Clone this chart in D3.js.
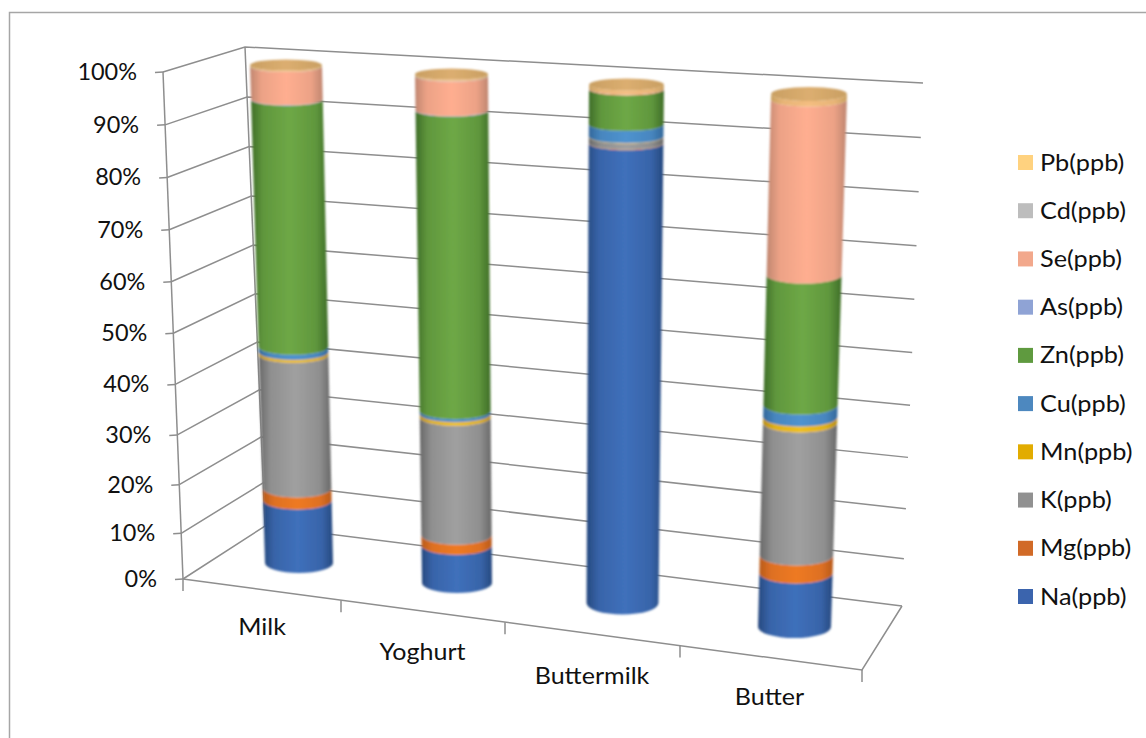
<!DOCTYPE html>
<html>
<head>
<meta charset="utf-8">
<style>
html,body{margin:0;padding:0;background:#fff;}
svg{display:block;}
text{font-family:Lato,"Open Sans",sans-serif;fill:#111;}
</style>
<script src="https://cdn.jsdelivr.net/npm/d3@7"></script>
</head>
<body>
<svg id="chart" width="1146" height="738"></svg>
<script>
// ---- data (percent of each product's total) ----
const categories = ["Milk", "Yoghurt", "Buttermilk", "Butter"];
const seriesNames = ["Na(ppb)", "Mg(ppb)", "K(ppb)", "Mn(ppb)", "Cu(ppb)", "Zn(ppb)", "As(ppb)", "Se(ppb)", "Cd(ppb)", "Pb(ppb)"];
const naValues = [13.8, 8.3, 89.0, 11.2];
const mgValues = [2.5, 2.1, 0.1, 3.5];
const kValues  = [27.1, 23.7, 1.1, 25.2];
const mnValues = [0.6, 0.7, 0.1, 1.1];
const cuValues = [1.0, 0.6, 2.2, 2.2];
const znValues = [48.3, 57.5, 6.5, 24.0];
const asValues = [0.1, 0.1, 0.0, 0.0];
const seValues = [6.3, 6.4, 0.2, 31.8];
const cdValues = [0.05, 0.1, 0.0, 0.0];
const pbValues = [0.25, 0.3, 0.7, 1.0];
const allSeries = [naValues, mgValues, kValues, mnValues, cuValues, znValues, asValues, seValues, cdValues, pbValues];
const percentTicks = [0, 10, 20, 30, 40, 50, 60, 70, 80, 90, 100];

// ---- styles ----
const swatchColors = ["#3b64ad", "#d16a27", "#919191", "#e2ac00", "#4d88bf", "#5f9a3f", "#8fa3d5", "#f2a88c", "#bdbdbd", "#ffd27f"];
const sideColors = [
  ["#27497f", "#3f70bb"], ["#b85a1c", "#ee7a24"], ["#686868", "#a0a0a0"], ["#b98f10", "#f0c020"],
  ["#33689a", "#4f93cf"], ["#3f6e28", "#6ea846"], ["#6f83b5", "#9bb0e0"], ["#c08670", "#ffae90"],
  ["#909090", "#c8c8c8"], ["#c8a060", "#f4bd80"]
];
const gridColor = "#8e8e8e";

// ---- projection scales ----
const warp = d3.scalePow().exponent(1.045).domain([0, 100]).range([0, 1]);
const lerp = (a, b, t) => a + (b - a) * t;
// frame corners
const axisBottom = [183, 579], axisTop = [163, 72];
const backBottomL = [265, 526], backTopL = [245, 47];
const backBottomR = [902, 606], backTopR = [923, 83];
const frontRight = [862, 670];
const at = (p0, p1, v) => { const t = warp(v); return [lerp(p0[0], p1[0], t), lerp(p0[1], p1[1], t)]; };

const tickX = d3.scaleLinear().domain([0, 1, 2, 3, 4]).range([183, 341, 505, 680, 862]);
const floorY = d3.scaleLinear().domain([183, 862]).range([579, 670]);

// cylinder geometry by category index
const baseCx = d3.scaleLinear().domain([0, 1, 2, 3]).range([299, 457, 622.5, 794.5]);
const topCx  = d3.scaleLinear().domain([0, 1, 2, 3]).range([286, 451.5, 626.5, 809]);
const baseCy = d3.scaleLinear().domain([0, 1, 2, 3]).range([563, 583, 603, 627]);
const topCy  = d3.scaleLinear().domain([0, 1, 2, 3]).range([65, 73, 84, 94]);
const baseRx = d3.scaleLinear().domain([0, 1, 2, 3]).range([34, 35, 36, 36.5]);
const topRx  = d3.scaleLinear().domain([0, 1, 2, 3]).range([36, 36.5, 37.5, 38]);
const baseRy = d3.scaleLinear().domain([0, 1, 2, 3]).range([10, 10, 11.5, 11]);
const topRy  = d3.scaleLinear().domain([0, 1, 2, 3]).range([5.5, 5.5, 6, 7]);
const labelX = d3.scaleLinear().domain([0, 1, 2, 3]).range([262, 422.5, 592, 769.5]);
const labelY = d3.scaleLinear().domain([0, 1, 2, 3]).range([635, 660, 684, 705]);

function ring(i, v) {
  const t = warp(v);
  return { cx: lerp(baseCx(i), topCx(i), t), cy: lerp(baseCy(i), topCy(i), t),
           rx: lerp(baseRx(i), topRx(i), t), ry: lerp(baseRy(i), topRy(i), t) };
}

const svg = d3.select("#chart");

// outer chart border, open to the page's right and bottom edges
svg.append("path").attr("d", "M9.5,738V12.5H1146").attr("fill", "none")
   .attr("stroke", "#a6a6a6").attr("stroke-width", 1.5);

// gradients
const defs = svg.append("defs");
swatchColors.forEach((c, s) => {
  const g = defs.append("linearGradient").attr("id", "side" + s);
  const [edge, mid] = sideColors[s];
  [[0, edge], [0.16, d3.interpolateRgb(edge, mid)(0.7)], [0.5, mid], [0.84, d3.interpolateRgb(edge, mid)(0.7)], [1, edge]]
    .forEach(([o, col]) => g.append("stop").attr("offset", o).attr("stop-color", col));
});
const capGrad = defs.append("linearGradient").attr("id", "cap");
[[0, "#c99f62"], [0.5, "#dcae70"], [1, "#c99f62"]].forEach(([o, col]) => capGrad.append("stop").attr("offset", o).attr("stop-color", col));
defs.append("filter").attr("id", "soft").attr("filterUnits", "userSpaceOnUse")
    .attr("x", 0).attr("y", 0).attr("width", 1146).attr("height", 738)
    .append("feGaussianBlur").attr("stdDeviation", 0.9);
defs.append("filter").attr("id", "softLine").attr("filterUnits", "userSpaceOnUse")
    .attr("x", 0).attr("y", 0).attr("width", 1146).attr("height", 738)
    .append("feGaussianBlur").attr("stdDeviation", 0.5);

// walls & gridlines
const grid = svg.append("g").attr("fill", "none").attr("stroke", gridColor).attr("stroke-width", 1.5).attr("filter", "url(#softLine)");
const line = d3.line();
percentTicks.forEach(v => {
  const a = at(axisBottom, axisTop, v), b = at(backBottomL, backTopL, v), c = at(backBottomR, backTopR, v);
  grid.append("path").attr("d", line([a, b, c]));
  grid.append("path").attr("d", line([[a[0] - 8, a[1] + 0.5], a]));
});
grid.append("path").attr("d", line([axisBottom, axisTop]));
grid.append("path").attr("d", line([backBottomL, backTopL]));
grid.append("path").attr("d", line([axisBottom, frontRight, backBottomR]));
d3.range(0, 5).forEach(i => {
  const x = tickX(i), y = floorY(x);
  grid.append("path").attr("d", line([[x, y], [x, y + 12]]));
});

// cylinders
const cyl = svg.append("g").attr("filter", "url(#soft)");
categories.forEach((cat, i) => {
  let cum = 0;
  const g = cyl.append("g").attr("class", "cylinder");
  allSeries.forEach((vals, s) => {
    const v0 = cum, v1 = cum + vals[i];
    cum = v1;
    if (vals[i] <= 0) return;
    const lo = ring(i, v0), hi = ring(i, Math.min(v1, 100));
    const d = `M${lo.cx - lo.rx},${lo.cy}` +
      `A${lo.rx},${lo.ry} 0 0 0 ${lo.cx + lo.rx},${lo.cy}` +
      `L${hi.cx + hi.rx},${hi.cy}` +
      `A${hi.rx},${hi.ry} 0 0 1 ${hi.cx - hi.rx},${hi.cy}Z`;
    g.append("path").attr("d", d).attr("fill", `url(#side${s})`);
  });
  const top = ring(i, cum);
  g.append("ellipse").attr("cx", top.cx).attr("cy", top.cy).attr("rx", top.rx).attr("ry", top.ry).attr("fill", "url(#cap)");
});

// text is slightly stretched horizontally, as in the reference
const stretched = (sel, x, y, sx, anchor, str) =>
  sel.append("text").attr("transform", `translate(${x},${y}) scale(${sx},1)`)
     .attr("text-anchor", anchor).attr("font-size", 23).text(str);

// value axis labels
const labels = svg.append("g");
percentTicks.forEach(v => {
  const a = at(axisBottom, axisTop, v);
  stretched(labels, a[0] - 26, a[1] + 8, 1.02, "end", v + "%");
});
// category labels
categories.forEach((cat, i) => stretched(labels, labelX(i), labelY(i), 1.09, "middle", cat));

// legend (top to bottom is reverse series order)
const legendY = d3.scalePoint().domain(d3.reverse(seriesNames)).range([155, 589]);
const legend = svg.append("g").attr("class", "legend");
seriesNames.forEach((name, s) => {
  const y = legendY(name);
  legend.append("rect").attr("x", 1018).attr("y", y).attr("width", 15).attr("height", 15).attr("fill", swatchColors[s]);
  stretched(legend, 1040, y + 15.5, 1.1, "start", name);
});
</script>
</body>
</html>
